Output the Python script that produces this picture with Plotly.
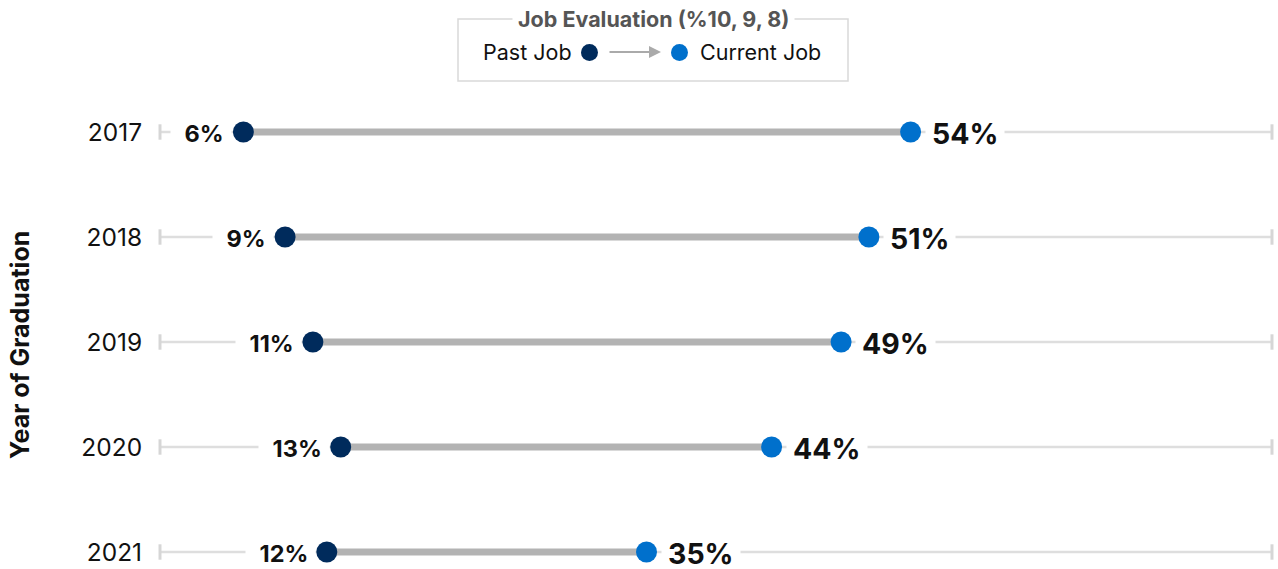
import plotly.graph_objects as go

years = ["2017", "2018", "2019", "2020", "2021"]
past_job = [6, 9, 11, 13, 12]
current_job = [54, 51, 49, 44, 35]
x_max = 80

NAVY = "#002B5C"
BLUE = "#0070CC"
FONT = "Inter"

W, H = 1278, 569
L, R, T, B = 160, 1272, 80, 569


def px_x(px):
    return (px - L) / (R - L)


def px_y(py):
    return 1 - (py - T) / (B - T)


rows = list(range(len(years)))
fig = go.Figure()

# background track lines
tx, ty = [], []
for i in rows:
    tx += [0, x_max, None]
    ty += [i, i, None]
fig.add_trace(go.Scatter(x=tx, y=ty, mode="lines", line=dict(color="#dedede", width=2.5),
                         hoverinfo="skip", showlegend=False, cliponaxis=False))
# end caps
cx, cy = [], []
for i in rows:
    cx += [0, x_max]
    cy += [i, i]
fig.add_trace(go.Scatter(x=cx, y=cy, mode="markers",
                         marker=dict(symbol="line-ns", size=11, line=dict(color="#d6d6d6", width=3)),
                         hoverinfo="skip", showlegend=False, cliponaxis=False))

# dumbbell connectors
lx, ly = [], []
for i in rows:
    lx += [past_job[i], current_job[i], None]
    ly += [i, i, None]
fig.add_trace(go.Scatter(x=lx, y=ly, mode="lines", line=dict(color="#b3b3b3", width=7),
                         hoverinfo="skip", showlegend=False, cliponaxis=False))

fig.add_trace(go.Scatter(x=past_job, y=rows, mode="markers", name="Past Job",
                         marker=dict(size=21, color=NAVY), showlegend=False, cliponaxis=False))
fig.add_trace(go.Scatter(x=current_job, y=rows, mode="markers", name="Current Job",
                         marker=dict(size=21, color=BLUE), showlegend=False, cliponaxis=False))

ann = []
for i in rows:
    ann.append(dict(x=past_job[i], y=i, xref="x", yref="y", text=f"&nbsp;<b>{past_job[i]}%</b>",
                    showarrow=False, xanchor="right", yanchor="middle", xshift=-11, yshift=-1,
                    bgcolor="white", borderpad=7,
                    font=dict(family=FONT, size=23.5, color="#111111")))
    ann.append(dict(x=current_job[i], y=i, xref="x", yref="y", text=f"<b>{current_job[i]}%</b>",
                    showarrow=False, xanchor="left", yanchor="middle", xshift=14, yshift=-1,
                    bgcolor="white", borderpad=6,
                    font=dict(family=FONT, size=28.5, color="#111111")))

# y axis title
ann.append(dict(x=px_x(20), y=2, xref="paper", yref="y", text="<b>Year of Graduation</b>",
                textangle=-90, showarrow=False, xanchor="center", yanchor="middle", yshift=-3,
                font=dict(family=FONT, size=25, color="#111111")))

# legend box
ann.append(dict(x=px_x(653), y=px_y(19), xref="paper", yref="paper",
                text="<b>Job Evaluation (%10, 9, 8)</b>", showarrow=False,
                xanchor="center", yanchor="middle", bgcolor="white", borderpad=5,
                font=dict(family=FONT, size=21.5, color="#555555")))
ann.append(dict(x=px_x(574), y=px_y(52), xref="paper", yref="paper", text="Past Job",
                showarrow=False, xanchor="right", yanchor="middle",
                font=dict(family=FONT, size=21.5, color="#111111")))
ann.append(dict(x=px_x(698), y=px_y(52), xref="paper", yref="paper", text="Current Job",
                showarrow=False, xanchor="left", yanchor="middle",
                font=dict(family=FONT, size=21.5, color="#111111")))
ann.append(dict(x=px_x(661), y=px_y(52), xref="paper", yref="paper", ax=-53, ay=0,
                axref="pixel", ayref="pixel", text="", showarrow=True,
                arrowhead=2, arrowsize=1.2, arrowwidth=2, arrowcolor="#aaaaaa"))

shapes = [
    dict(type="rect", xref="paper", yref="paper", x0=px_x(458), x1=px_x(848),
         y0=px_y(19), y1=px_y(81), line=dict(color="#d9d9d9", width=1.5), layer="above"),
    dict(type="circle", xref="paper", yref="paper", x0=px_x(581), x1=px_x(598),
         y0=px_y(44), y1=px_y(61), fillcolor=NAVY, line=dict(width=0)),
    dict(type="circle", xref="paper", yref="paper", x0=px_x(671), x1=px_x(688),
         y0=px_y(44), y1=px_y(61), fillcolor=BLUE, line=dict(width=0)),
]

fig.update_layout(
    width=W, height=H,
    margin=dict(l=L, r=W - R, t=T, b=H - B, pad=0),
    paper_bgcolor="white", plot_bgcolor="white",
    xaxis=dict(range=[0, x_max], visible=False, fixedrange=True),
    yaxis=dict(range=[4 + (B - 552) / 105, -(132 - T) / 105], tickvals=rows, ticktext=years,
               showgrid=False, zeroline=False, showline=False,
               ticks="outside", ticklen=12, tickcolor="rgba(0,0,0,0)",
               tickfont=dict(family=FONT, size=24.5, color="#111111")),
    annotations=ann, shapes=shapes, showlegend=False,
)

fig.write_html("out.html")
